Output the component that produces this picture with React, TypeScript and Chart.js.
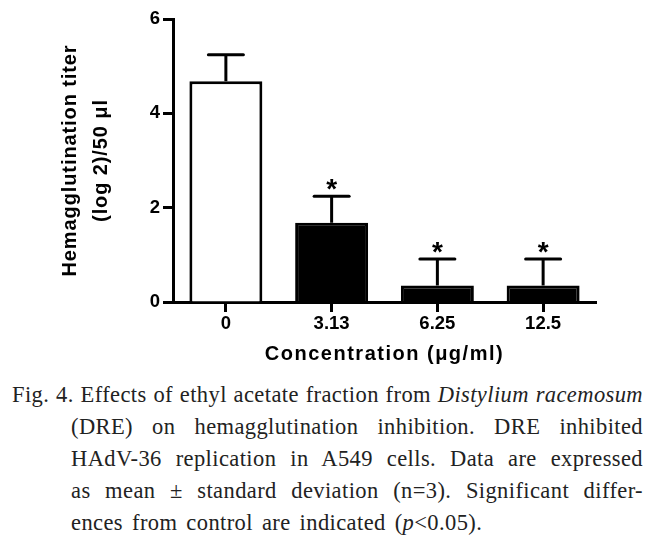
import React, { useEffect, useRef } from "react";
import { Chart, registerables } from "chart.js";

Chart.register(...registerables);

const categories = ["0", "3.13", "6.25", "12.5"];
const means = [4.68, 1.68, 0.35, 0.35];
const sds = [0.56, 0.56, 0.56, 0.56];
const significant = [false, true, true, true];
const barFills = ["#ffffff", "#000000", "#000000", "#000000"];
const yTicks = [0, 2, 4, 6];

const SANS = "'Liberation Sans', Arial, sans-serif";

function spaceTitle(s: any, spacing: string) {
  if (s._lsPatched) return;
  s._lsPatched = true;
  const orig = s.drawTitle;
  s.drawTitle = function (...args: any[]) {
    const ctx = this.ctx;
    const prev = ctx.letterSpacing;
    ctx.letterSpacing = spacing;
    orig.apply(this, args);
    ctx.letterSpacing = prev || "0px";
  };
}

const errorPlugin = {
  id: "errorBars",
  afterDatasetsDraw(chart: any) {
    const ctx = chart.ctx;
    const xs = chart.scales.x;
    const ys = chart.scales.y;
    ctx.save();
    ctx.strokeStyle = "#000";
    ctx.fillStyle = "#000";
    ctx.lineWidth = 3;
    means.forEach((m, i) => {
      const x = xs.getPixelForValue(i);
      const y0 = ys.getPixelForValue(m);
      const y1 = ys.getPixelForValue(m + sds[i]);
      ctx.lineCap = "butt";
      ctx.beginPath();
      ctx.moveTo(x, y0);
      ctx.lineTo(x, y1);
      ctx.stroke();
      ctx.lineCap = "round";
      ctx.beginPath();
      ctx.moveTo(x - 17.5, y1);
      ctx.lineTo(x + 17.5, y1);
      ctx.stroke();
      if (significant[i]) {
        ctx.font = "bold 28px " + SANS;
        ctx.textAlign = "center";
        ctx.textBaseline = "alphabetic";
        ctx.fillText("*", x, y1 + 2);
      }
    });
    ctx.restore();
  },
};

export default function App() {
  const ref = useRef<HTMLCanvasElement | null>(null);
  useEffect(() => {
    if (!ref.current) return;
    const chart = new Chart(ref.current, {
      type: "bar",
      data: {
        labels: categories,
        datasets: [
          {
            data: means,
            backgroundColor: barFills,
            borderColor: "#000",
            borderWidth: 3,
            barPercentage: 0.69,
            categoryPercentage: 1,
          },
        ],
      },
      options: {
        responsive: false,
        animation: false,
        events: [],
        layout: { padding: { left: 0, right: 69, top: 19, bottom: 0 } },
        plugins: { legend: { display: false }, tooltip: { enabled: false } },
        scales: {
          x: {
            type: "category",
            offset: true,
            afterFit: (s: any) => {
              s.height = 73;
              spaceTitle(s, "1.5px");
            },
            grid: {
              display: true,
              offset: false,
              drawOnChartArea: false,
              drawTicks: true,
              tickLength: 10,
              tickWidth: 3,
              tickColor: "#000",
            },
            border: { display: true, color: "#000", width: 3 },
            ticks: {
              color: "#000",
              padding: 1,
              font: { family: SANS, size: 18.5, weight: "bold" },
            },
            title: {
              display: true,
              text: "Concentration (μg/ml)",
              color: "#000",
              padding: { top: 0, bottom: 9 },
              font: { family: SANS, size: 20, weight: "bold" },
            },
          },
          y: {
            min: 0,
            max: 6,
            afterFit: (s: any) => {
              s.width = 173;
              spaceTitle(s, "0.9px");
            },
            afterBuildTicks: (s: any) => {
              s.ticks = yTicks.map((v) => ({ value: v }));
            },
            grid: {
              display: true,
              drawOnChartArea: false,
              drawTicks: true,
              tickLength: 10,
              tickWidth: 3,
              tickColor: "#000",
            },
            border: { display: true, color: "#000", width: 3 },
            ticks: {
              color: "#000",
              padding: 3,
              font: { family: SANS, size: 18.5, weight: "bold" },
            },
            title: {
              display: true,
              text: ["Hemagglutination titer", "(log 2)/50 μl"],
              color: "#000",
              padding: { top: 55, bottom: 0 },
              font: { family: SANS, size: 20, weight: "bold", lineHeight: 1.55 },
            },
          },
        },
      },
      plugins: [errorPlugin],
    } as any);
    return () => chart.destroy();
  }, []);

  const lineBase: React.CSSProperties = {
    position: "absolute",
    right: 22,
    height: 32,
    lineHeight: "32px",
    whiteSpace: "nowrap",
  };
  const just: React.CSSProperties = { textAlign: "justify", textAlignLast: "justify" as any };

  return (
    <div
      style={{
        position: "fixed",
        left: 0,
        top: 0,
        width: 665,
        height: 549,
        background: "#fff",
        overflow: "hidden",
      }}
    >
      <canvas ref={ref} width={665} height={375} style={{ position: "absolute", left: 0, top: 0 }} />
      <div
        style={{
          fontFamily: "'Liberation Serif', 'Times New Roman', serif",
          fontSize: 22.5,
          letterSpacing: "0.4px",
          color: "#222",
        }}
      >
        <div style={{ ...lineBase, ...just, left: 12, top: 379 }}>
          Fig. 4. Effects of ethyl acetate fraction from <i>Distylium racemosum</i>
        </div>
        <div style={{ ...lineBase, ...just, left: 71, top: 411 }}>
          (DRE) on hemagglutination inhibition. DRE inhibited
        </div>
        <div style={{ ...lineBase, ...just, left: 71, top: 443 }}>
          HAdV-36 replication in A549 cells. Data are expressed
        </div>
        <div style={{ ...lineBase, ...just, left: 71, top: 475 }}>
          as mean ± standard deviation (n=3). Significant differ-
        </div>
        <div style={{ ...lineBase, left: 71, top: 507, textAlign: "left", wordSpacing: "3px" }}>
          ences from control are indicated (<i>p</i>&lt;0.05).
        </div>
      </div>
    </div>
  );
}
